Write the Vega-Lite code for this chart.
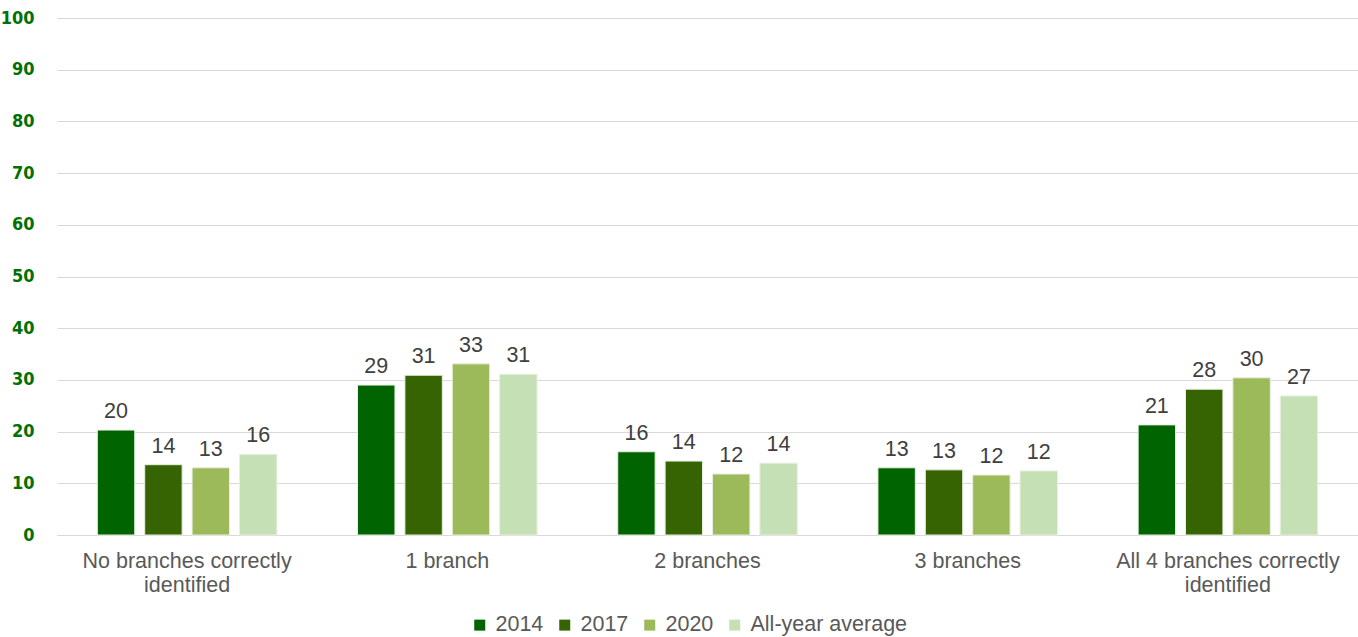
{
  "$schema": "https://vega.github.io/schema/vega-lite/v6.json",
  "width": 1301,
  "height": 517,
  "autosize": {"type": "none"},
  "padding": {"left": 57, "top": 18, "right": 0, "bottom": 102},
  "background": "white",
  "data": {
    "values": [
      {"cat": "No branches correctly identified", "series": "2014", "value": 20.3},
      {"cat": "No branches correctly identified", "series": "2017", "value": 13.6},
      {"cat": "No branches correctly identified", "series": "2020", "value": 13.0},
      {"cat": "No branches correctly identified", "series": "All-year average", "value": 15.6},
      {"cat": "1 branch", "series": "2014", "value": 29.0},
      {"cat": "1 branch", "series": "2017", "value": 30.9},
      {"cat": "1 branch", "series": "2020", "value": 33.1},
      {"cat": "1 branch", "series": "All-year average", "value": 31.1},
      {"cat": "2 branches", "series": "2014", "value": 16.1},
      {"cat": "2 branches", "series": "2017", "value": 14.3},
      {"cat": "2 branches", "series": "2020", "value": 11.8},
      {"cat": "2 branches", "series": "All-year average", "value": 13.9},
      {"cat": "3 branches", "series": "2014", "value": 13.0},
      {"cat": "3 branches", "series": "2017", "value": 12.6},
      {"cat": "3 branches", "series": "2020", "value": 11.6},
      {"cat": "3 branches", "series": "All-year average", "value": 12.4},
      {"cat": "All 4 branches correctly identified", "series": "2014", "value": 21.3},
      {"cat": "All 4 branches correctly identified", "series": "2017", "value": 28.2},
      {"cat": "All 4 branches correctly identified", "series": "2020", "value": 30.4},
      {"cat": "All 4 branches correctly identified", "series": "All-year average", "value": 26.9}
    ]
  },
  "encoding": {
    "x": {
      "field": "cat",
      "type": "nominal",
      "sort": null,
      "title": null,
      "scale": {"paddingInner": 0.31, "paddingOuter": 0.155},
      "axis": {
        "labelAngle": 0,
        "labelFont": "Liberation Sans",
        "labelFontSize": 21.5,
        "labelColor": "#595959",
        "labelPadding": 15,
        "labelLineHeight": 24,
        "ticks": false,
        "domain": true,
        "domainColor": "#d9d9d9",
        "labelLimit": 400,
        "labelExpr": "datum.value == 'No branches correctly identified' ? ['No branches correctly', 'identified'] : datum.value == 'All 4 branches correctly identified' ? ['All 4 branches correctly', 'identified'] : datum.value"
      }
    },
    "xOffset": {
      "field": "series",
      "type": "nominal",
      "sort": null,
      "scale": {"paddingInner": 0.21, "paddingOuter": 0}
    },
    "y": {
      "field": "value",
      "type": "quantitative",
      "title": null,
      "scale": {"domain": [0, 100]},
      "axis": {
        "values": [0, 10, 20, 30, 40, 50, 60, 70, 80, 90, 100],
        "domain": false,
        "ticks": false,
        "gridColor": "#d9d9d9",
        "gridWidth": 1,
        "labelFont": "DejaVu Sans Condensed, DejaVu Sans, sans-serif",
        "labelFontWeight": "bold",
        "labelFontSize": 18,
        "labelColor": "#007000",
        "labelPadding": 23
      }
    }
  },
  "layer": [
    {
      "mark": {"type": "bar", "stroke": "#e8f0e0", "strokeWidth": 1},
      "encoding": {
        "color": {
          "field": "series",
          "type": "nominal",
          "sort": null,
          "scale": {
            "domain": ["2014", "2017", "2020", "All-year average"],
            "range": ["#006400", "#366403", "#9dba5a", "#c5e0b4"]
          },
          "legend": {
            "orient": "none",
            "legendX": 412,
            "legendY": 596,
            "padding": 0,
            "direction": "horizontal",
            "title": null,
            "symbolType": "square",
            "symbolSize": 121,
            "symbolStrokeWidth": 0,
            "labelFont": "Liberation Sans",
            "labelFontSize": 21.5,
            "labelColor": "#595959",
            "columnPadding": 10,
            "labelOffset": 5
          }
        }
      }
    },
    {
      "mark": {
        "type": "text",
        "baseline": "bottom",
        "dy": -7,
        "font": "Liberation Sans",
        "fontSize": 21.5,
        "color": "#404040"
      },
      "encoding": {
        "text": {"field": "value", "type": "quantitative", "format": ".0f"}
      }
    }
  ],
  "config": {
    "view": {"stroke": null}
  }
}
